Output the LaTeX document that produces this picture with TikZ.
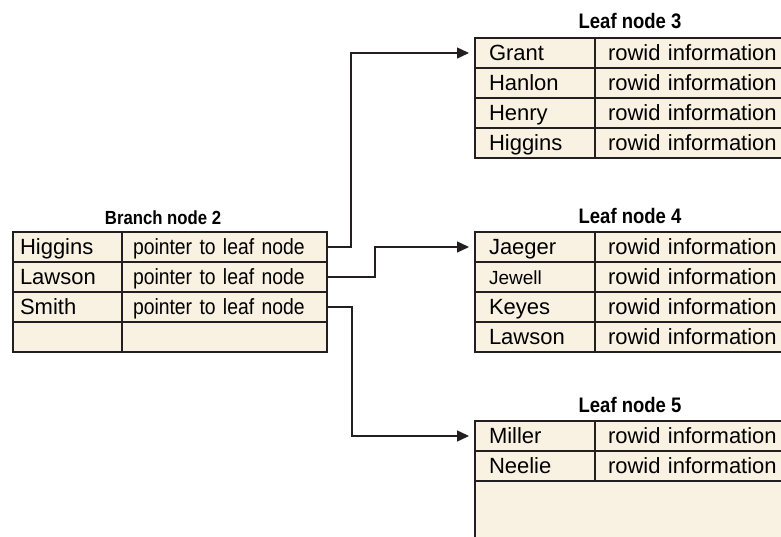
\documentclass[tikz,border=0pt]{standalone}
\usepackage{fontspec}
\setmainfont{Liberation Sans}
\newfontfamily\narrowfont[FakeStretch=0.88]{Liberation Sans}
\usetikzlibrary{arrows.meta,positioning,calc}
\definecolor{IdxCream}{HTML}{F9F1E1}
\definecolor{IdxLine}{HTML}{231F20}

\begin{document}
\begin{tikzpicture}[x=1pt,y=-1pt,node distance=0pt,
    cell/.style={draw=IdxLine,line width=2pt,fill=IdxCream,inner sep=0pt,outer sep=0pt,
      minimum height=30pt,text height=18pt,text depth=3pt,align=left,
      font=\fontsize{22}{24}\selectfont},
    bname/.style={cell,minimum width=109pt,text width=95pt},
    bptr/.style={cell,minimum width=205pt,text width=183pt,font=\narrowfont\fontsize{22}{24}\selectfont},
    lname/.style={cell,minimum width=120pt,text width=92pt},
    linfo/.style={cell,minimum width=210pt,text width=184pt},
    title/.style={anchor=base,inner sep=0pt,font=\narrowfont\bfseries\fontsize{21}{24}\selectfont},
    link/.style={-{Triangle[length=12pt,width=11pt]},draw=IdxLine,line width=1.4pt,shorten >=6pt}]
  \useasboundingbox (0,0) rectangle (781,537);
  \clip (0,0) rectangle (781,537);

  % branch block
  \node[bname,anchor=north west] (b1n) at (13,232) {Higgins};
  \node[bptr,right=of b1n] (b1p) {pointer to leaf node};
  \node[bname,below=of b1n] (b2n) {Lawson};
  \node[bptr,right=of b2n] (b2p) {pointer to leaf node};
  \node[bname,below=of b2n] (b3n) {Smith};
  \node[bptr,right=of b3n] (b3p) {pointer to leaf node};
  \node[bname,below=of b3n] (b4n) {};
  \node[bptr,right=of b4n] (b4p) {};
  \node[title,font=\narrowfont\bfseries\fontsize{19}{21}\selectfont] (btitle) at (163,225) {Branch node 2};

  % leaf block 3
  \node[lname,anchor=north west] (l3an) at (475,38) {Grant};
  \node[linfo,right=of l3an] (l3ai) {rowid information};
  \node[lname,below=of l3an] (l3bn) {Hanlon};
  \node[linfo,right=of l3bn] (l3bi) {rowid information};
  \node[lname,below=of l3bn] (l3cn) {Henry};
  \node[linfo,right=of l3cn] (l3ci) {rowid information};
  \node[lname,below=of l3cn] (l3dn) {Higgins};
  \node[linfo,right=of l3dn] (l3di) {rowid information};
  \node[title] (l3title) at ($(l3an.north west)+(155,-9)$) {Leaf node 3};

  % leaf block 4
  \node[lname,anchor=north west] (l4an) at (475,232) {Jaeger};
  \node[linfo,right=of l4an] (l4ai) {rowid information};
  \node[lname,below=of l4an,font=\fontsize{19}{21}\selectfont] (l4bn) {Jewell};
  \node[linfo,right=of l4bn] (l4bi) {rowid information};
  \node[lname,below=of l4bn] (l4cn) {Keyes};
  \node[linfo,right=of l4cn] (l4ci) {rowid information};
  \node[lname,below=of l4cn] (l4dn) {Lawson};
  \node[linfo,right=of l4dn] (l4di) {rowid information};
  \node[title] (l4title) at ($(l4an.north west)+(155,-8)$) {Leaf node 4};

  % leaf block 5
  \node[lname,anchor=north west] (l5an) at (475,421) {Miller};
  \node[linfo,right=of l5an] (l5ai) {rowid information};
  \node[lname,below=of l5an] (l5bn) {Neelie};
  \node[linfo,right=of l5bn] (l5bi) {rowid information};
  \node[cell,anchor=north west,minimum width=330pt,minimum height=90pt] (l5rest) at (l5bn.south west) {};
  \node[title] (l5title) at ($(l5an.north west)+(155,-9)$) {Leaf node 5};

  % pointers
  \draw[link] (b1p.east) -- ++(24,0) |- (l3an.west);
  \draw[link] (b2p.east) -- ++(48,0) |- (l4an.west);
  \draw[link] (b3p.east) -- ++(25,0) |- (l5an.west);
\end{tikzpicture}
\end{document}
